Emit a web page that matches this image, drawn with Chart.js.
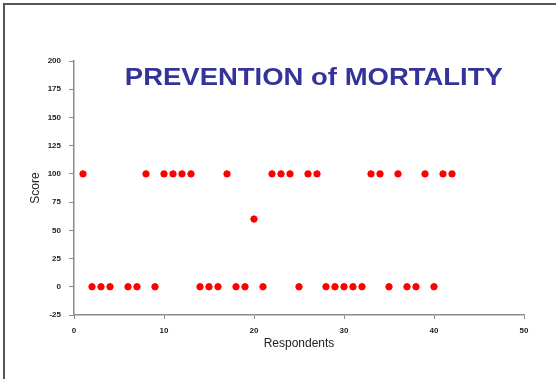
<!DOCTYPE html>
<html>
<head>
<meta charset="utf-8">
<script src="https://cdn.jsdelivr.net/npm/chart.js@4.4.0/dist/chart.umd.min.js"></script>
<style>
  html, body { margin: 0; padding: 0; background: #fff; }
  #wrap { position: relative; width: 556px; height: 379px; }
  #frame {
    position: absolute; left: 3px; top: 3px; right: 0; bottom: 0;
    border-top: 2px solid #555; border-left: 2px solid #555;
    pointer-events: none;
  }
</style>
</head>
<body>
<div id="wrap">
  <canvas id="scoreChart" width="556" height="379"></canvas>
  <div id="frame"></div>
</div>
<script>
// Chart data
const respondents = [1, 2, 3, 4, 6, 7, 8, 9, 10, 11, 12, 13, 14, 15, 16, 17, 18, 19, 20, 21,
    22, 23, 24, 25, 26, 27, 28, 29, 30, 31, 32, 33, 34, 35, 36, 37, 38, 39, 40, 41, 42];
const scores = [100, 0, 0, 0, 0, 0, 100, 0, 100, 100, 100, 100, 0, 0, 0, 100, 0, 0, 60, 0,
    100, 100, 100, 0, 100, 100, 0, 0, 0, 0, 0, 100, 100, 0, 100, 0, 0, 100, 0, 100, 100];
const xTicks = [0, 10, 20, 30, 40, 50];
const yTicks = [-25, 0, 25, 50, 75, 100, 125, 150, 175, 200];
const chartTitle = 'PREVENTION of MORTALITY';

const points = respondents.map((r, i) => ({ x: r, y: scores[i] }));

// Title drawn inside the plot area, stretched a little like the original
const insideTitle = {
    id: 'insideTitle',
    afterDraw(chart) {
        const ctx = chart.ctx;
        const area = chart.chartArea;
        ctx.save();
        ctx.font = 'bold 24px "Liberation Sans", Arial, sans-serif';
        ctx.fillStyle = '#333399';
        ctx.textBaseline = 'alphabetic';
        const w = ctx.measureText(chartTitle).width;
        const targetW = 378;
        const cx = area.left + (area.right - area.left) * 0.533;
        ctx.translate(cx, area.top + 24);
        ctx.scale(targetW / w, 1);
        ctx.textAlign = 'center';
        ctx.fillText(chartTitle, 0, 0);
        ctx.restore();
    }
};

const axisGrey = '#8c8c8c';
const tickFont = { family: '"Liberation Sans", Arial, sans-serif', size: 8, weight: 'bold' };

new Chart(document.getElementById('scoreChart'), {
    type: 'scatter',
    data: {
        datasets: [{
            data: points,
            backgroundColor: '#ff0000',
            borderColor: '#ff0000',
            borderWidth: 1,
            pointRadius: 3.2,
            pointHoverRadius: 3.2
        }]
    },
    options: {
        responsive: false,
        animation: false,
        layout: { padding: { top: 61, right: 32, left: 28, bottom: 28 } },
        plugins: {
            legend: { display: false },
            tooltip: { enabled: false },
            title: { display: false }
        },
        scales: {
            x: {
                type: 'linear',
                min: 0,
                max: 50,
                afterBuildTicks: scale => { scale.ticks = xTicks.map(v => ({ value: v })); },
                afterFit: scale => { scale.height = 36; },
                grid: { drawOnChartArea: false, drawTicks: true, tickLength: 4, color: axisGrey },
                border: { color: axisGrey, width: 1.5 },
                ticks: { color: '#222', font: tickFont, padding: 7, maxRotation: 0 },
                title: {
                    display: true,
                    text: 'Respondents',
                    color: '#222',
                    font: { family: '"Liberation Sans", Arial, sans-serif', size: 12 },
                    padding: { top: 1, bottom: 0 }
                }
            },
            y: {
                type: 'linear',
                min: -25,
                max: 200,
                afterBuildTicks: scale => { scale.ticks = yTicks.map(v => ({ value: v })); },
                afterFit: scale => { scale.width = 46; },
                grid: { drawOnChartArea: false, drawTicks: true, tickLength: 5, color: axisGrey },
                border: { color: axisGrey, width: 1.5 },
                ticks: { color: '#222', font: tickFont, padding: 8 },
                title: {
                    display: true,
                    text: 'Score',
                    color: '#222',
                    font: { family: '"Liberation Sans", Arial, sans-serif', size: 12 },
                    padding: { top: 0, bottom: 0 }
                }
            }
        }
    },
    plugins: [insideTitle]
});
</script>
</body>
</html>
